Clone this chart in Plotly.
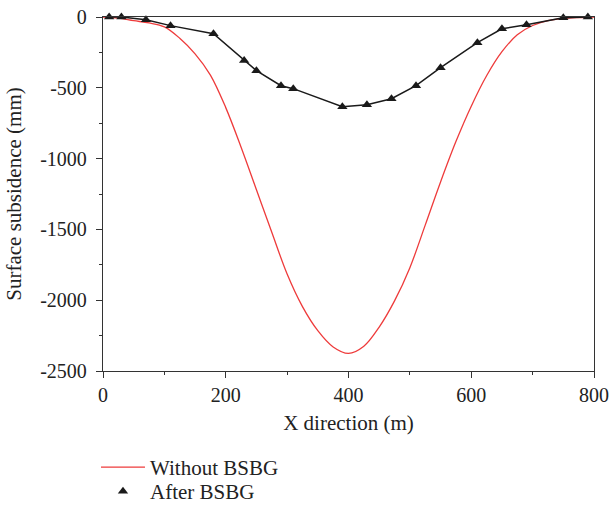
import plotly.graph_objects as go

# Without BSBG (red curve)
x_without = [0, 25, 50, 75, 100, 125, 150, 175, 200, 225, 250, 275, 300, 325, 350, 375, 400,
             425, 450, 475, 500, 525, 550, 575, 600, 625, 650, 675, 700, 725, 750, 775, 800]
y_without = [0, -8, -26, -42, -70, -150, -260, -410, -640, -920, -1220, -1520, -1815, -2045, -2215, -2330, -2376,
             -2325, -2190, -2005, -1770, -1470, -1165, -880, -630, -415, -245, -125, -60, -26, -11, -4, 0]

# After BSBG (black triangles)
x_after = [10, 30, 70, 110, 180, 230, 250, 290, 310, 390, 430, 470, 510, 550, 610, 650, 690, 750, 790]
y_after = [0, 0, -19, -61, -118, -308, -379, -485, -506, -634, -620, -577, -485, -358, -181, -83, -54, -5, 0]

x_ticks = [0, 200, 400, 600, 800]
x_ticklabels = ["0", "200", "400", "600", "800"]
y_ticks = [0, -500, -1000, -1500, -2000, -2500]
y_ticklabels = ["0", "-500", "-1000", "-1500", "-2000", "-2500"]

font_family = "Liberation Serif"
txt = "#222222"

fig = go.Figure()
fig.add_trace(go.Scatter(x=x_without, y=y_without, mode="lines", name="Without BSBG",
                         legend="legend",
                         line=dict(color="#ee3b3b", width=1.3, shape="spline", smoothing=1.0)))
fig.add_trace(go.Scatter(x=x_after, y=y_after, mode="lines", showlegend=False, cliponaxis=False,
                         line=dict(color="#1a1a1a", width=1.5)))
fig.add_trace(go.Scatter(x=x_after, y=y_after, mode="markers", name="After BSBG",
                         legend="legend2", cliponaxis=False,
                         marker=dict(symbol="triangle-up", size=9, color="#1a1a1a")))

axis_common = dict(
    showline=True, linecolor="#333333", linewidth=1.3, mirror=True,
    ticks="outside", ticklen=6, tickcolor="#333333", tickwidth=1.3,
    showgrid=False, zeroline=False,
    tickfont=dict(family=font_family, size=20, color=txt),
    title_font=dict(family=font_family, size=21, color=txt),
)

legend_common = dict(xanchor="left", yanchor="top", orientation="v", itemwidth=44,
                     font=dict(family=font_family, size=21, color=txt),
                     bgcolor="rgba(0,0,0,0)")

fig.update_layout(
    width=609, height=506,
    margin=dict(l=103, r=15, t=17, b=135, autoexpand=False),
    paper_bgcolor="white", plot_bgcolor="white",
    font=dict(family=font_family, size=20, color=txt),
    xaxis=dict(range=[0, 800], tickmode="array", tickvals=x_ticks, ticktext=x_ticklabels,
               title=dict(text="X direction (m)", standoff=10),
               minor=dict(ticks="outside", ticklen=3, tickcolor="#333333", dtick=100, tick0=0, showgrid=False),
               **axis_common),
    yaxis=dict(range=[-2500, 0], tickmode="array", tickvals=y_ticks, ticktext=y_ticklabels,
               title=dict(text="Surface subsidence (mm)", standoff=12),
               ticklabelstandoff=5,
               minor=dict(ticks="outside", ticklen=3, tickcolor="#333333", dtick=250, tick0=0, showgrid=False),
               **axis_common),
    legend=dict(x=-0.0143, y=-0.2145, **legend_common),
    legend2=dict(x=-0.0143, y=-0.2825, **legend_common),
    showlegend=True,
)

fig.write_html("out.html", config={"displayModeBar": False},
               post_script="document.body.style.margin='0';document.body.style.overflow='hidden';")
